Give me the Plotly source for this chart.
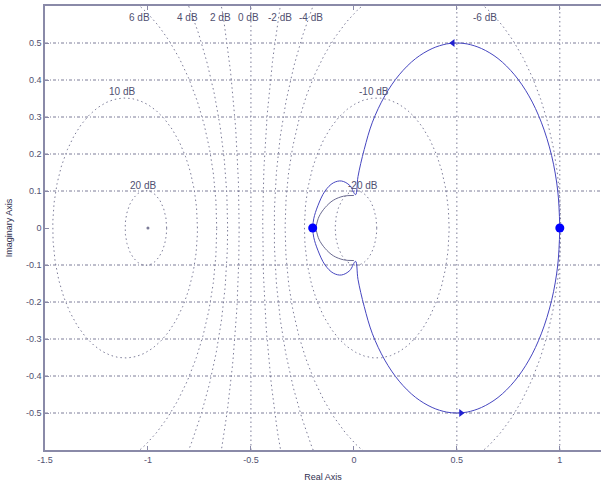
import numpy as np
import plotly.graph_objects as go

# ---- data ----
# Nyquist curve, upper branch, from (1,0) to near origin
upper_re = [1.0, 0.99, 0.96, 0.91, 0.85, 0.78, 0.70, 0.62, 0.55, 0.50, 0.45, 0.38, 0.30, 0.22, 0.15, 0.09, 0.05, 0.02, 0.008,
            -0.02, -0.06, -0.10, -0.14, -0.175, -0.195, -0.20]
upper_im = [0.0, 0.10, 0.196, 0.286, 0.357, 0.414, 0.458, 0.485, 0.4975, 0.50, 0.4975, 0.485, 0.458, 0.414, 0.357, 0.286, 0.212, 0.139, 0.09,
            0.115, 0.127, 0.122, 0.10, 0.06, 0.025, 0.0]
# inner loop near origin
inner_re = [0.0, -0.05, -0.10, -0.14, -0.17, -0.185]
inner_im = [0.088, 0.086, 0.075, 0.055, 0.03, 0.0]
# markers
dot_re = [1.0, -0.2]
dot_im = [0.0, 0.0]
# M-circle grid levels (dB)
m_db = [20, 10, 6, 4, 2, 0, -2, -4, -6, -10, -20]
# dB labels (text, position)
lab_text = ["6 dB", "4 dB", "2 dB", "0 dB", "-2 dB", "-4 dB", "-6 dB", "10 dB", "-10 dB", "20 dB", "-20 dB"]
lab_x = [-1.04, -0.81, -0.65, -0.51, -0.36, -0.21, 0.635, -1.125, 0.10, -1.024, 0.045]
lab_y = [0.568, 0.568, 0.568, 0.568, 0.568, 0.568, 0.568, 0.368, 0.368, 0.116, 0.116]
# axis ticks
x_ticks = [-1.5, -1.0, -0.5, 0.0, 0.5, 1.0]
x_tick_text = ["-1.5", "-1", "-0.5", "0", "0.5", "1"]
y_ticks = [-0.5, -0.4, -0.3, -0.2, -0.1, 0.0, 0.1, 0.2, 0.3, 0.4, 0.5]
y_tick_text = ["-0.5", "-0.4", "-0.3", "-0.2", "-0.1", "0", "0.1", "0.2", "0.3", "0.4", "0.5"]
x_grid = [0.5, 1.0]
y_grid = [-0.5, -0.4, -0.3, -0.2, -0.1, 0.1, 0.2, 0.3, 0.4, 0.5]

XR = [-1.5, 1.2]
YR = [-0.6, 0.6]
GRID_C = "#7c7c98"
TXT_C = "#505070"
FONT = "Liberation Sans"
DOTS = "1.5px,3px"

fig = go.Figure()

# rectangular grid
for g in y_grid:
    fig.add_trace(go.Scatter(x=XR, y=[g, g], mode="lines",
                             line=dict(color=GRID_C, width=1, dash="3px,2px,1px,2px"), hoverinfo="skip", showlegend=False))
for g in x_grid:
    fig.add_trace(go.Scatter(x=[g, g], y=YR, mode="lines",
                             line=dict(color=GRID_C, width=1, dash=DOTS), hoverinfo="skip", showlegend=False))

# M-circles
t = np.linspace(0, 2 * np.pi, 721)
for db in m_db:
    if db == 0:
        xs, ys = [-0.5, -0.5], YR
    else:
        M = 10 ** (db / 20.0)
        c = M * M / (1 - M * M)
        r = abs(M / (1 - M * M))
        xs = c + r * np.cos(t)
        ys = r * np.sin(t)
    fig.add_trace(go.Scatter(x=xs, y=ys, mode="lines",
                             line=dict(color=GRID_C, width=1, dash=DOTS), hoverinfo="skip", showlegend=False))

# -1 point
fig.add_trace(go.Scatter(x=[-1.0], y=[0.0], mode="markers",
                         marker=dict(color=GRID_C, size=3), showlegend=False))

# Nyquist curve: upper and mirrored lower branch
lower_im = [-v for v in upper_im]
fig.add_trace(go.Scatter(x=upper_re, y=upper_im, mode="lines", line=dict(color="#4646c0", width=1, shape="spline"),
                         showlegend=False))
fig.add_trace(go.Scatter(x=upper_re, y=lower_im, mode="lines", line=dict(color="#4646c0", width=1, shape="spline"),
                         showlegend=False))
inner_x = inner_re + inner_re[::-1]
inner_y = inner_im + [-v for v in inner_im[::-1]]
fig.add_trace(go.Scatter(x=inner_x, y=inner_y, mode="lines", line=dict(color="#6a6a90", width=1, shape="spline"),
                         showlegend=False))

# direction arrows
fig.add_trace(go.Scatter(x=[0.48], y=[0.5], mode="markers",
                         marker=dict(symbol="triangle-left", color="#2020d0", size=7), showlegend=False))
fig.add_trace(go.Scatter(x=[0.52], y=[-0.5], mode="markers",
                         marker=dict(symbol="triangle-right", color="#2020d0", size=7), showlegend=False))
# dots
fig.add_trace(go.Scatter(x=dot_re, y=dot_im, mode="markers",
                         marker=dict(color="#0000ff", size=9), showlegend=False))

# dB labels
for txt, lx, ly in zip(lab_text, lab_x, lab_y):
    fig.add_annotation(x=lx, y=ly, text=txt, showarrow=False, xanchor="center", yanchor="middle",
                       font=dict(family=FONT, size=10, color=TXT_C))

axis_common = dict(showgrid=False, zeroline=False, showline=True, linecolor="#8a8aa8", linewidth=1.5,
                   ticks="inside", ticklen=4, tickcolor="#8a8aa8", automargin=False,
                   tickfont=dict(family=FONT, size=9, color=TXT_C))
fig.update_xaxes(range=XR, tickvals=x_ticks, ticktext=x_tick_text, mirror="ticks",
                 title=dict(text="Real Axis", font=dict(family=FONT, size=9, color="#303050"), standoff=10),
                 **axis_common)
fig.update_yaxes(range=YR, tickvals=y_ticks, ticktext=y_tick_text, mirror=False,
                 title=dict(text="Imaginary Axis", font=dict(family=FONT, size=9, color="#303050"), standoff=12),
                 **axis_common)

fig.update_layout(width=601, height=484, margin=dict(l=45, r=0, t=6, b=34),
                  paper_bgcolor="white", plot_bgcolor="white", showlegend=False)

fig.write_html("out.html", config={"displayModeBar": False},
               post_script="document.body.style.margin='0px';")
